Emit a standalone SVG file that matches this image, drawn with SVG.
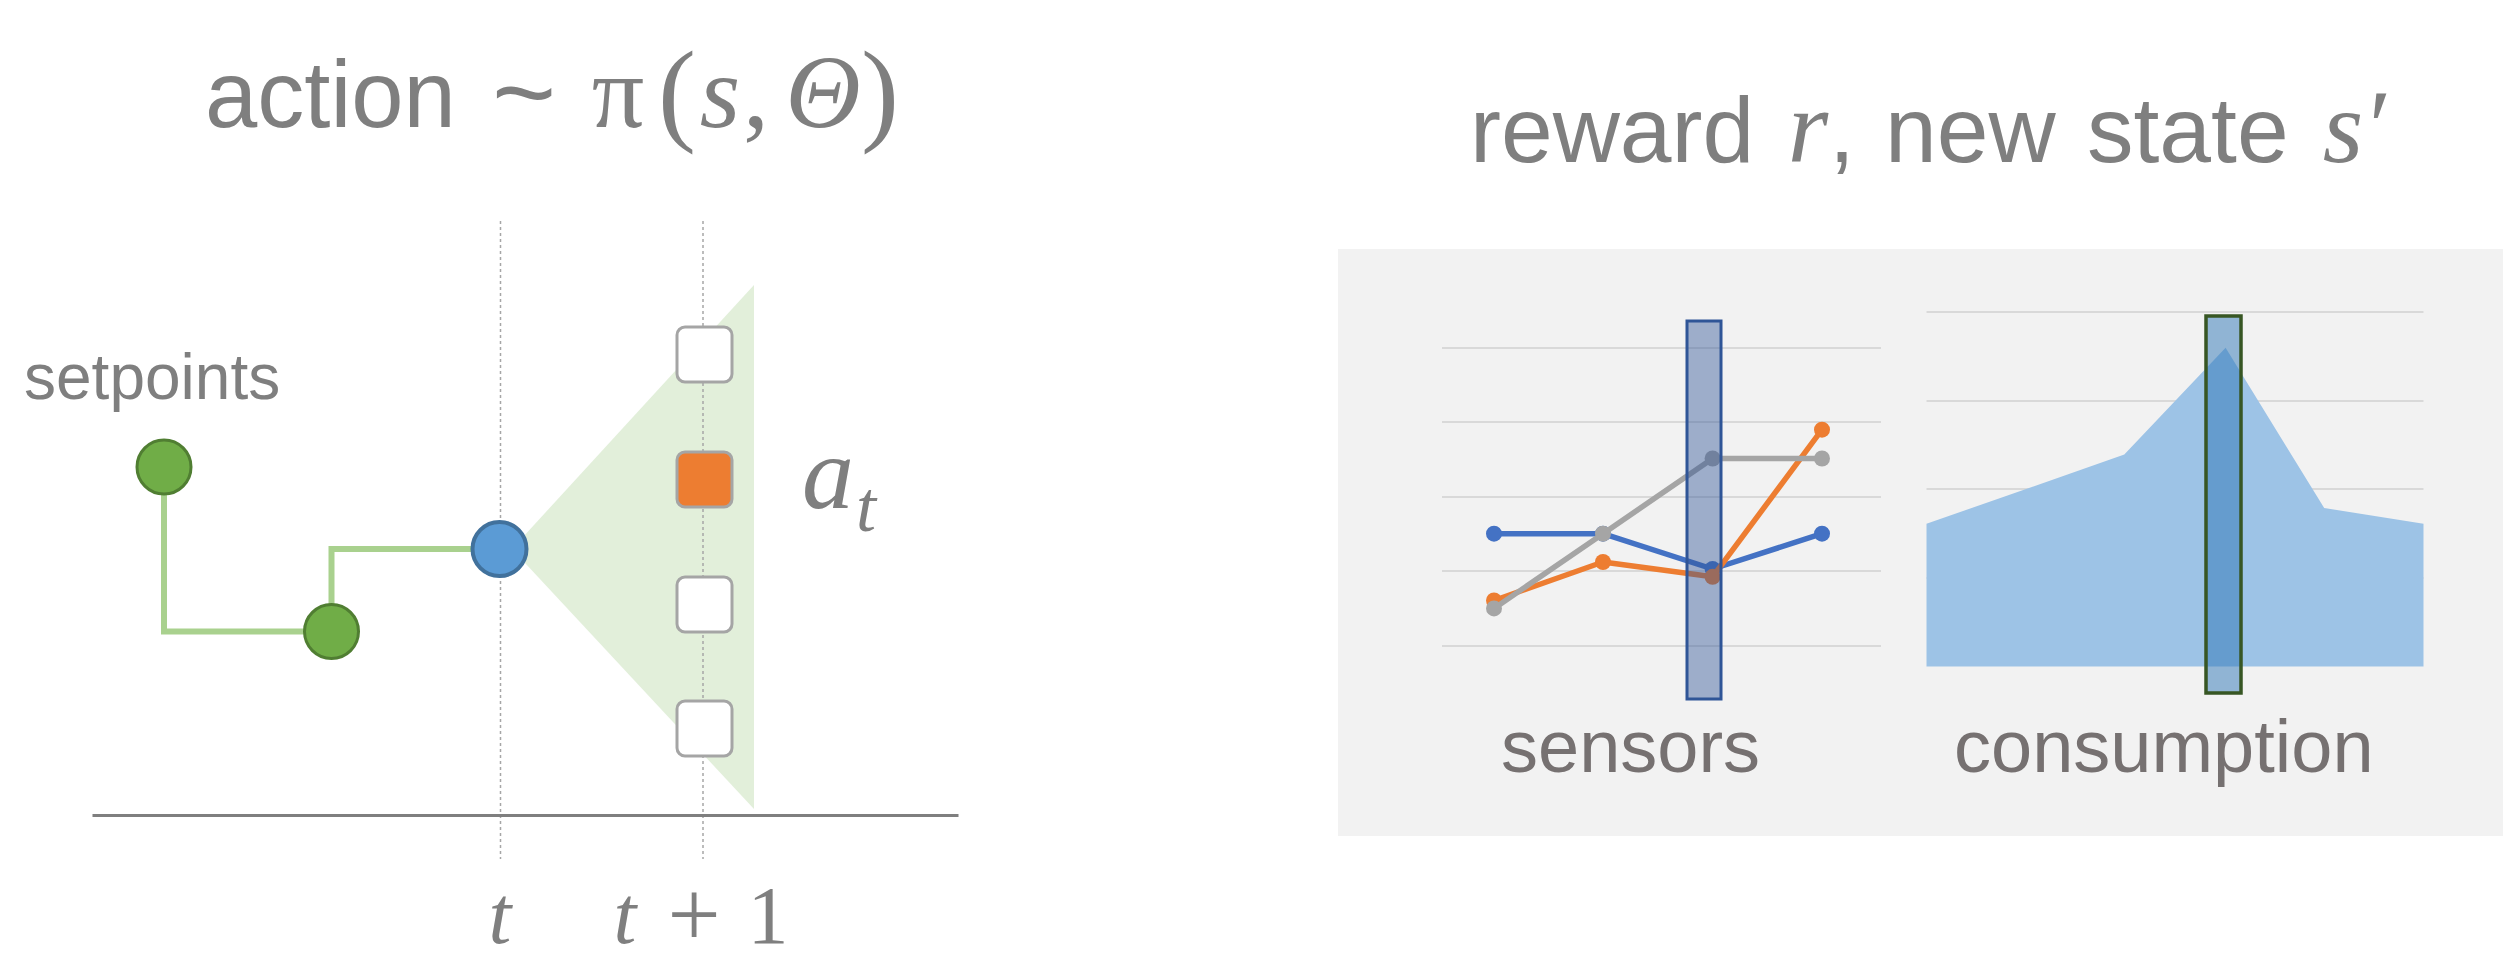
<svg xmlns="http://www.w3.org/2000/svg" width="2503" height="961" viewBox="0 0 2503 961">
<style>
.sans{font-family:"Liberation Sans",Arial,sans-serif;fill:#7f7f7f}
.math{font-family:"Liberation Serif","DejaVu Serif",serif;fill:#7f7f7f}
.it{font-style:italic}
.lbl{font-family:"Liberation Sans",Arial,sans-serif;fill:#767171;font-size:74px}
.vline{stroke:#a6a6a6;stroke-width:1.5;stroke-dasharray:3 3;fill:none}
.conn{stroke:#a9d18e;stroke-width:6;fill:none}
.sp{fill:#70ad47;stroke:#507e32;stroke-width:3}
.opt{fill:#ffffff;stroke:#a5a5a5;stroke-width:3}
.grid{stroke:#d9d9d9;stroke-width:2}
.ser{fill:none;stroke-width:5.5;stroke-linejoin:round}
</style>
<rect width="2503" height="961" fill="#ffffff"/>

<g id="title-action">
<text class="sans" x="205" y="127" font-size="94">action</text>
<text class="sans" x="524" y="130" font-size="110" text-anchor="middle">~</text>
<text class="math" x="618" y="127" font-size="104" text-anchor="middle">π</text>
<text class="math" x="677" y="130" font-size="114" text-anchor="middle">(</text>
<text class="math it" x="720" y="127" font-size="104" text-anchor="middle">s</text>
<text class="math" x="756" y="127" font-size="104" text-anchor="middle">,</text>
<text class="math it" x="823" y="127" font-size="104" text-anchor="middle">Θ</text>
<text class="math" x="880" y="130" font-size="114" text-anchor="middle">)</text>
</g>

<g id="title-reward">
<text class="sans" x="1470" y="162" font-size="93">reward</text>
<text class="math it" x="1808" y="162" font-size="104" text-anchor="middle">r</text>
<text class="sans" x="1829" y="162" font-size="93">,</text>
<text class="sans" x="1885" y="162" font-size="93">new</text>
<text class="sans" x="2087" y="162" font-size="93">state</text>
<text class="math it" x="2343" y="162" font-size="104" text-anchor="middle">s</text>
<text class="math" x="2380" y="162" font-size="104" text-anchor="middle">′</text>
</g>

<g id="timeline">
<polygon points="512,549 754,285 754,809" fill="#e2efda"/>
<line class="vline" x1="500.5" y1="221" x2="500.5" y2="859"/>
<line class="vline" x1="703" y1="221" x2="703" y2="859"/>
<line x1="92.5" y1="815.5" x2="958.5" y2="815.5" stroke="#7f7f7f" stroke-width="3"/>
<text class="math it" x="500" y="943" font-size="82" text-anchor="middle">t</text>
<text class="math it" x="625" y="943" font-size="82" text-anchor="middle">t</text>
<text class="math" x="694" y="943" font-size="82" text-anchor="middle" transform="translate(694 925) scale(1.15) translate(-694 -925)">+</text>
<text class="math" x="768" y="943" font-size="82" text-anchor="middle">1</text>
</g>

<g id="connectors">
<path class="conn" d="M164,467 V631.5 H331.5"/>
<path class="conn" d="M331.5,631.5 V549 H499.5"/>
</g>

<g id="setpoints-label">
<text class="sans" x="24" y="399" font-size="64">setpoints</text>
</g>
<g id="setpoint-1"><circle class="sp" cx="164" cy="467" r="27"/></g>
<g id="setpoint-2"><circle class="sp" cx="331.5" cy="631.5" r="27"/></g>
<g id="state-t"><circle cx="499.5" cy="549" r="27" fill="#5b9bd5" stroke="#41719c" stroke-width="4"/></g>

<g id="action-1"><rect class="opt" x="677" y="327" width="55" height="55" rx="8"/></g>
<g id="action-2"><rect x="677" y="452" width="55" height="55" rx="8" fill="#ed7d31" stroke="#a5a5a5" stroke-width="3"/></g>
<g id="action-3"><rect class="opt" x="677" y="577" width="55" height="55" rx="8"/></g>
<g id="action-4"><rect class="opt" x="677" y="701" width="55" height="55" rx="8"/></g>

<g id="a-t-label">
<text class="math it" x="828" y="508" font-size="104" text-anchor="middle">a</text>
<text class="math it" x="866" y="531" font-size="72" text-anchor="middle">t</text>
</g>

<g id="panel">
<rect x="1338" y="249" width="1165" height="587" fill="#f2f2f2"/>
</g>

<g id="sensors-chart">
<line class="grid" x1="1442" y1="348" x2="1881" y2="348"/>
<line class="grid" x1="1442" y1="422" x2="1881" y2="422"/>
<line class="grid" x1="1442" y1="497" x2="1881" y2="497"/>
<line class="grid" x1="1442" y1="571" x2="1881" y2="571"/>
<line class="grid" x1="1442" y1="646" x2="1881" y2="646"/>
<polyline class="ser" stroke="#4472c4" points="1494,533.7 1603,533.7 1712.6,569 1822,533.7"/>
<g fill="#4472c4"><circle cx="1494" cy="533.7" r="8"/><circle cx="1603" cy="533.7" r="8"/><circle cx="1712.6" cy="569" r="8"/><circle cx="1822" cy="533.7" r="8"/></g>
<polyline class="ser" stroke="#ed7d31" points="1494,600.5 1603,562 1712.6,576.8 1822,429.7"/>
<g fill="#ed7d31"><circle cx="1494" cy="600.5" r="8"/><circle cx="1603" cy="562" r="8"/><circle cx="1712.6" cy="576.8" r="8"/><circle cx="1822" cy="429.7" r="8"/></g>
<polyline class="ser" stroke="#a5a5a5" points="1494,608.4 1603,533.7 1712.6,458.5 1822,458.5"/>
<g fill="#a5a5a5"><circle cx="1494" cy="608.4" r="8"/><circle cx="1603" cy="533.7" r="8"/><circle cx="1712.6" cy="458.5" r="8"/><circle cx="1822" cy="458.5" r="8"/></g>
<rect x="1687" y="321" width="34" height="378" fill="#2f5597" fill-opacity="0.44" stroke="#2f5597" stroke-width="3"/>
<text class="lbl" x="1501" y="772">sensors</text>
</g>

<g id="consumption-chart">
<line class="grid" x1="1926.5" y1="312" x2="2423.5" y2="312"/>
<line class="grid" x1="1926.5" y1="401" x2="2423.5" y2="401"/>
<line class="grid" x1="1926.5" y1="489" x2="2423.5" y2="489"/>
<line class="grid" x1="1926.5" y1="578" x2="2423.5" y2="578"/>
<polygon points="1926.5,523.8 2124.3,454.6 2225.6,347.8 2324.2,508 2423.5,523.8 2423.5,666.5 1926.5,666.5" fill="#9dc3e6"/>
<rect x="2206" y="316" width="35" height="377" fill="#2e75b6" fill-opacity="0.5" stroke="#375623" stroke-width="3.5"/>
<text class="lbl" x="1954" y="772">consumption</text>
</g>
</svg>
